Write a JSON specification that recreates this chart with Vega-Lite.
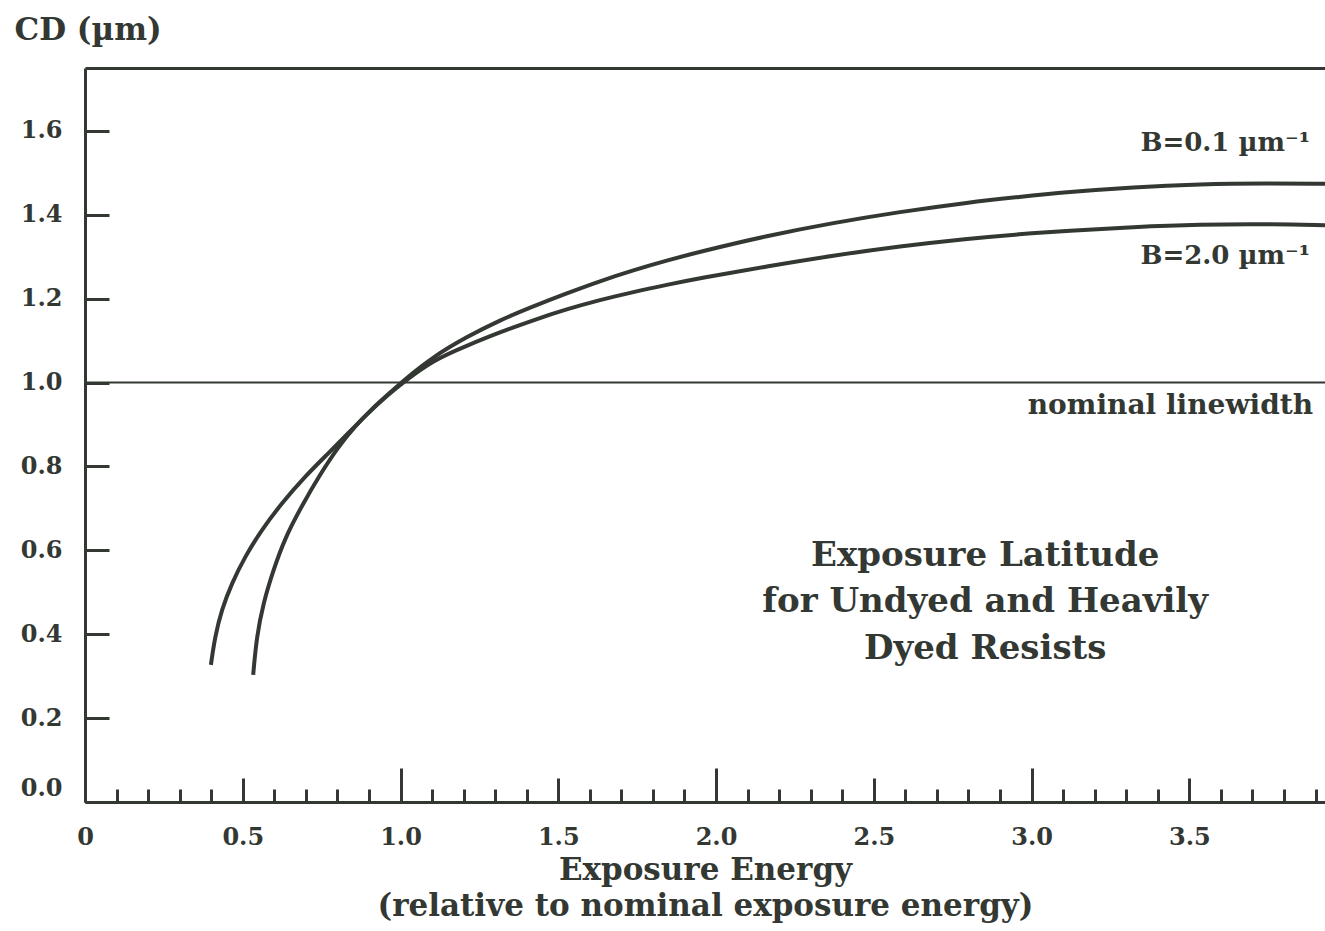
{
  "$schema": "https://vega.github.io/schema/vega-lite/v6.json",
  "width": 1240,
  "height": 734,
  "autosize": {"type": "none"},
  "padding": {"left": 85, "top": 68, "right": 0, "bottom": 129},
  "background": "white",
  "config": {
    "view": {"stroke": null},
    "font": "DejaVu Serif",
    "axis": {
      "grid": false,
      "domainColor": "#333833",
      "tickColor": "#333833",
      "labelColor": "#333833",
      "titleColor": "#333833",
      "labelFont": "DejaVu Serif",
      "titleFont": "DejaVu Serif",
      "labelFontWeight": "bold",
      "titleFontWeight": "bold",
      "labelFlush": false,
      "labelOverlap": false
    }
  },
  "resolve": {"axis": {"x": "independent", "y": "independent"}},
  "layer": [
    {
      "data": {"values": [{"nominal": 1}]},
      "mark": {"type": "rule", "color": "#333833", "strokeWidth": 2},
      "encoding": {
        "y": {"field": "nominal", "type": "quantitative", "scale": {"domain": [0, 1.75], "nice": false}, "axis": null}
      }
    },
    {
      "data": {
        "values": [
          {"series": "B=0.1", "x": 0.533, "y": 0.303},
          {"series": "B=0.1", "x": 0.544, "y": 0.394},
          {"series": "B=0.1", "x": 0.565, "y": 0.474},
          {"series": "B=0.1", "x": 0.597, "y": 0.553},
          {"series": "B=0.1", "x": 0.634, "y": 0.630},
          {"series": "B=0.1", "x": 0.687, "y": 0.706},
          {"series": "B=0.1", "x": 0.745, "y": 0.781},
          {"series": "B=0.1", "x": 0.803, "y": 0.847},
          {"series": "B=0.1", "x": 0.856, "y": 0.896},
          {"series": "B=0.1", "x": 0.909, "y": 0.937},
          {"series": "B=0.1", "x": 0.961, "y": 0.972},
          {"series": "B=0.1", "x": 1.014, "y": 1.008},
          {"series": "B=0.1", "x": 1.104, "y": 1.062},
          {"series": "B=0.1", "x": 1.210, "y": 1.109},
          {"series": "B=0.1", "x": 1.315, "y": 1.149},
          {"series": "B=0.1", "x": 1.421, "y": 1.182},
          {"series": "B=0.1", "x": 1.527, "y": 1.213},
          {"series": "B=0.1", "x": 1.632, "y": 1.242},
          {"series": "B=0.1", "x": 1.738, "y": 1.268},
          {"series": "B=0.1", "x": 1.844, "y": 1.291},
          {"series": "B=0.1", "x": 1.949, "y": 1.312},
          {"series": "B=0.1", "x": 2.161, "y": 1.350},
          {"series": "B=0.1", "x": 2.372, "y": 1.381},
          {"series": "B=0.1", "x": 2.583, "y": 1.407},
          {"series": "B=0.1", "x": 2.795, "y": 1.429},
          {"series": "B=0.1", "x": 2.964, "y": 1.443},
          {"series": "B=0.1", "x": 3.112, "y": 1.454},
          {"series": "B=0.1", "x": 3.323, "y": 1.466},
          {"series": "B=0.1", "x": 3.534, "y": 1.473},
          {"series": "B=0.1", "x": 3.745, "y": 1.475},
          {"series": "B=0.1", "x": 3.930, "y": 1.474},
          {"series": "B=2.0", "x": 0.399, "y": 0.327},
          {"series": "B=2.0", "x": 0.412, "y": 0.394},
          {"series": "B=2.0", "x": 0.433, "y": 0.458},
          {"series": "B=2.0", "x": 0.465, "y": 0.521},
          {"series": "B=2.0", "x": 0.507, "y": 0.585},
          {"series": "B=2.0", "x": 0.560, "y": 0.649},
          {"series": "B=2.0", "x": 0.623, "y": 0.712},
          {"series": "B=2.0", "x": 0.697, "y": 0.776},
          {"series": "B=2.0", "x": 0.771, "y": 0.831},
          {"series": "B=2.0", "x": 0.835, "y": 0.880},
          {"series": "B=2.0", "x": 0.898, "y": 0.928},
          {"series": "B=2.0", "x": 0.961, "y": 0.971},
          {"series": "B=2.0", "x": 1.004, "y": 0.998},
          {"series": "B=2.0", "x": 1.104, "y": 1.054},
          {"series": "B=2.0", "x": 1.210, "y": 1.088},
          {"series": "B=2.0", "x": 1.315, "y": 1.120},
          {"series": "B=2.0", "x": 1.421, "y": 1.149},
          {"series": "B=2.0", "x": 1.527, "y": 1.175},
          {"series": "B=2.0", "x": 1.632, "y": 1.197},
          {"series": "B=2.0", "x": 1.738, "y": 1.216},
          {"series": "B=2.0", "x": 1.844, "y": 1.233},
          {"series": "B=2.0", "x": 1.949, "y": 1.249},
          {"series": "B=2.0", "x": 2.161, "y": 1.277},
          {"series": "B=2.0", "x": 2.372, "y": 1.303},
          {"series": "B=2.0", "x": 2.583, "y": 1.325},
          {"series": "B=2.0", "x": 2.795, "y": 1.343},
          {"series": "B=2.0", "x": 2.964, "y": 1.354},
          {"series": "B=2.0", "x": 3.112, "y": 1.362},
          {"series": "B=2.0", "x": 3.323, "y": 1.371},
          {"series": "B=2.0", "x": 3.534, "y": 1.377},
          {"series": "B=2.0", "x": 3.745, "y": 1.378},
          {"series": "B=2.0", "x": 3.930, "y": 1.375}
        ]
      },
      "mark": {"type": "line", "color": "#333833", "strokeWidth": 4, "interpolate": "basis", "strokeCap": "butt"},
      "encoding": {
        "x": {
          "field": "x", "type": "quantitative",
          "scale": {"domain": [0, 3.93], "nice": false, "zero": false},
          "axis": {
            "orient": "bottom",
            "values": [0,0.1,0.2,0.3,0.4,0.5,0.6,0.7,0.8,0.9,1,1.1,1.2,1.3,1.4,1.5,1.6,1.7,1.8,1.9,2,2.1,2.2,2.3,2.4,2.5,2.6,2.7,2.8,2.9,3,3.1,3.2,3.3,3.4,3.5,3.6,3.7,3.8,3.9],
            "domainWidth": 3,
            "tickWidth": 3,
            "tickSize": {"condition": [{"test": "round(datum.value*10) % 10 == 0", "value": -34}, {"test": "round(datum.value*10) % 5 == 0", "value": -24}], "value": -13},
            "labelExpr": "round(datum.value*10) % 5 == 0 ? (datum.value == 0 ? '0' : format(datum.value, '.1f')) : ''",
            "labelFontSize": 24,
            "labelPadding": {"condition": [{"test": "round(datum.value*10) % 10 == 0", "value": 57}, {"test": "round(datum.value*10) % 5 == 0", "value": 47}], "value": 36},
            "labelBaseline": "top",
            "title": ["Exposure Energy", "(relative to nominal exposure energy)"],
            "titleFontSize": 31,
            "titleLineHeight": 36,
            "titleBaseline": "alphabetic",
            "titleY": 77
          }
        },
        "y": {
          "field": "y", "type": "quantitative",
          "scale": {"domain": [0, 1.75], "nice": false},
          "axis": {
            "orient": "left",
            "values": [0, 0.2, 0.4, 0.6, 0.8, 1.0, 1.2, 1.4, 1.6],
            "domainWidth": 3,
            "tickWidth": 3,
            "tickSize": -24,
            "labelExpr": "format(datum.value, '.1f')",
            "labelFontSize": 24,
            "labelPadding": 47,
            "labelOffset": {"condition": {"test": "datum.value == 0", "value": -14}, "value": 0},
            "title": "CD (µm)",
            "titleAngle": 0,
            "titleAlign": "left",
            "titleBaseline": "middle",
            "titleX": -71,
            "titleY": -38,
            "titleFontSize": 31
          }
        },
        "detail": {"field": "series"}
      }
    },
    {
      "data": {
        "values": [
          {"label": "B=0.1 µm⁻¹", "x": 3.883, "y": 1.572},
          {"label": "B=2.0 µm⁻¹", "x": 3.883, "y": 1.302}
        ]
      },
      "mark": {"type": "text", "align": "right", "baseline": "middle", "font": "DejaVu Serif", "fontWeight": "bold", "fontSize": 26, "color": "#333833"},
      "encoding": {
        "x": {"field": "x", "type": "quantitative", "axis": null},
        "y": {"field": "y", "type": "quantitative", "axis": null},
        "text": {"field": "label"}
      }
    },
    {
      "data": {
        "values": [
          {"label": "nominal linewidth", "x": 3.892, "y": 0.944}
        ]
      },
      "mark": {"type": "text", "align": "right", "baseline": "middle", "font": "DejaVu Serif", "fontWeight": "bold", "fontSize": 28, "color": "#333833"},
      "encoding": {
        "x": {"field": "x", "type": "quantitative", "axis": null},
        "y": {"field": "y", "type": "quantitative", "axis": null},
        "text": {"field": "label"}
      }
    },
    {
      "data": {
        "values": [
          {"label": "Exposure Latitude\nfor Undyed and Heavily\nDyed Resists", "x": 2.853, "y": 0.5866}
        ]
      },
      "mark": {"type": "text", "align": "center", "baseline": "middle", "lineBreak": "\n", "lineHeight": 46.5, "font": "DejaVu Serif", "fontWeight": "bold", "fontSize": 34, "color": "#333833"},
      "encoding": {
        "x": {
          "field": "x", "type": "quantitative",
          "axis": {"orient": "top", "labels": false, "ticks": false, "title": null, "domainWidth": 3}
        },
        "y": {"field": "y", "type": "quantitative", "axis": null},
        "text": {"field": "label"}
      }
    }
  ]
}
